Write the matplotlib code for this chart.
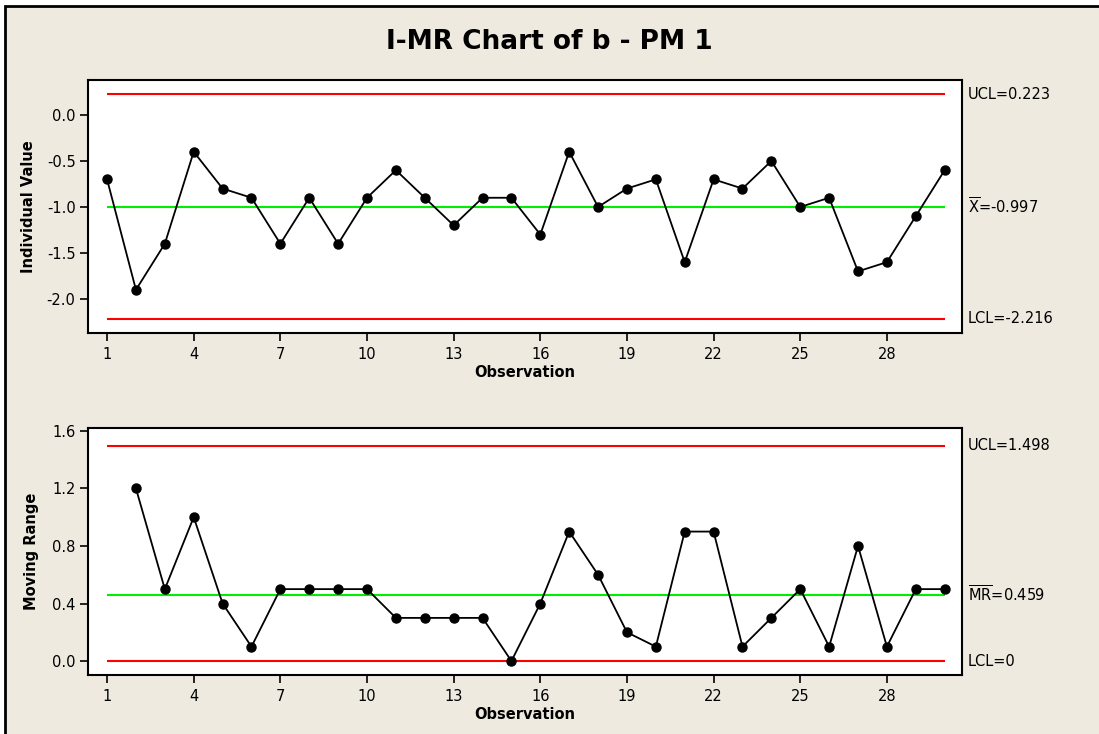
import numpy as np
import matplotlib
matplotlib.use("Agg")
import matplotlib.pyplot as plt
from matplotlib.patches import Rectangle
from matplotlib.lines import Line2D

plt.rcParams['font.family'] = ['DejaVu Sans']
plt.rcParams['axes.unicode_minus'] = False
plt.rcParams['mathtext.fontset'] = 'dejavusans'

# individual values
individual = [-0.7, -1.9, -1.4, -0.4, -0.8, -0.9, -1.4, -0.9, -1.4, -0.9,
              -0.6, -0.9, -1.2, -0.9, -0.9, -1.3, -0.4, -1.0, -0.8, -0.7,
              -1.6, -0.7, -0.8, -0.5, -1.0, -0.9, -1.7, -1.6, -1.1, -0.6]
# moving ranges (start at observation 2)
moving_range = [1.2, 0.5, 1.0, 0.4, 0.1, 0.5, 0.5, 0.5, 0.5, 0.3,
                0.3, 0.3, 0.3, 0.0, 0.4, 0.9, 0.6, 0.2, 0.1, 0.9,
                0.9, 0.1, 0.3, 0.5, 0.1, 0.8, 0.1, 0.5, 0.5]

i_ucl, i_center, i_lcl = 0.223, -0.997, -2.216
mr_ucl, mr_center, mr_lcl = 1.498, 0.459, 0.0
i_limit_labels = ["UCL=0.223", r"$\overline{\mathregular{X}}$=-0.997", "LCL=-2.216"]
mr_limit_labels = ["UCL=1.498", r"$\overline{\mathregular{MR}}$=0.459", "LCL=0"]

obs = np.arange(1, len(individual) + 1)
obs_mr = obs[1:]

bg = '#EEEAE0'
W, H = 1099, 734
fig = plt.figure(figsize=(W / 100, H / 100), dpi=100)
fig.patch.set_facecolor(bg)
fig.patch.set_edgecolor('none')
fig.patch.set_linewidth(0)
# white strip above and left of the frame, black top/left frame lines
fx, fy = 5 / W, 1 - 6 / H
fig.patches.append(Rectangle((0, fy), 1, 1 - fy, transform=fig.transFigure,
                             facecolor='white', edgecolor='none', zorder=-10))
fig.patches.append(Rectangle((0, 0), fx, 1, transform=fig.transFigure,
                             facecolor='white', edgecolor='none', zorder=-10))
fig.lines.append(Line2D([fx, fx, 1.01], [-0.01, fy, fy], transform=fig.transFigure,
                        color='black', linewidth=2, solid_joinstyle='miter'))

fig.text(0.5, 1 - 42 / H, "I-MR Chart of b - PM 1", ha='center', va='center',
         fontsize=19, fontweight='bold')


def make_axes(top, bottom):
    left, right = 88, 962
    return fig.add_axes([left / W, 1 - bottom / H, (right - left) / W, (bottom - top) / H])


def style(ax, ylabel, label_x):
    ax.set_facecolor('white')
    for s in ax.spines.values():
        s.set_linewidth(1.5)
        s.set_color('black')
    ax.set_xticks(np.arange(1, 29, 3))
    ax.set_xlim(0.34, 30.6)
    ax.tick_params(axis='both', direction='out', length=6, width=1.2, labelsize=10.5, pad=3,
                   colors='black')
    ax.tick_params(axis='x', pad=4)
    ax.set_xlabel("Observation", fontweight='bold', fontsize=10.5, labelpad=2)
    ax.set_ylabel(ylabel, fontweight='bold', fontsize=10.5)
    ax.yaxis.set_label_coords(label_x, 0.5)


def limits(ax, values, labels):
    colors = ['red', '#00EE00', 'red']
    for v, c, lab in zip(values, colors, labels):
        ax.hlines(v, obs[0], obs[-1], colors=c, linewidth=1.5, zorder=2)
        ax.text(1.007, v, lab, transform=ax.get_yaxis_transform(), ha='left', va='center',
                fontsize=10.5)


# Individual value chart
ax1 = make_axes(80, 333)
limits(ax1, [i_ucl, i_center, i_lcl], i_limit_labels)
ax1.plot(obs, individual, color='black', linewidth=1.3, marker='o', markersize=6.5, zorder=3)
ax1.set_ylim(-2.37, 0.38)
ax1.set_yticks([0.0, -0.5, -1.0, -1.5, -2.0])
ax1.set_yticklabels(["0.0", "-0.5", "-1.0", "-1.5", "-2.0"])
style(ax1, "Individual Value", -0.060)

# Moving range chart
ax2 = make_axes(428, 675)
limits(ax2, [mr_ucl, mr_center, mr_lcl], mr_limit_labels)
ax2.plot(obs_mr, moving_range, color='black', linewidth=1.3, marker='o', markersize=6.5, zorder=3)
ax2.set_ylim(-0.097, 1.62)
ax2.set_yticks([0.0, 0.4, 0.8, 1.2, 1.6])
ax2.set_yticklabels(["0.0", "0.4", "0.8", "1.2", "1.6"])
style(ax2, "Moving Range", -0.056)

fig.savefig("out.png", dpi=100, facecolor=fig.get_facecolor(), edgecolor='none')
